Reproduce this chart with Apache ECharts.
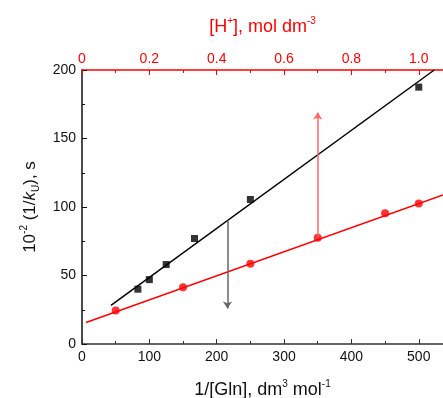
<!DOCTYPE html>
<html>
<head>
<meta charset="utf-8">
<script src="https://cdn.jsdelivr.net/npm/echarts@6/dist/echarts.min.js"></script>
<style>
  html, body { margin: 0; padding: 0; background: #fff; }
  #main { width: 443px; height: 398px; }
</style>
</head>
<body>
<div id="main"></div>
<script>
// black squares: 1/kU vs 1/[Gln]
const glnX = [83, 100, 125, 167, 250, 500];
const glnY = [40, 47, 58, 77, 105.5, 187.5];
// red circles: 1/kU vs [H+]
const hX = [0.1, 0.3, 0.5, 0.7, 0.9, 1.0];
const hY = [24.5, 41.5, 58.5, 77.5, 95.5, 102.5];
// fitted line end points
const glnFitX = [43, 523];
const glnFitY = [28.2, 200];
const hFitX = [0.012, 1.072];
const hFitY = [15.7, 108.8];
// arrows
const blackArrow = { x: 216, from: 90.3, to: 26 };
const redArrow = { x: 0.7, from: 77.5, to: 169 };

const FONT = 'Liberation Sans';
const RED = '#ff0000';

const chart = echarts.init(document.getElementById('main'));

const zip = (xs, ys) => xs.map((x, i) => [x, ys[i]]);

const option = {
  animation: false,
  textStyle: { fontFamily: FONT },
  grid: { left: 82, right: 0, top: 70, bottom: 54, containLabel: false, outerBoundsMode: 'none' },
  xAxis: [
    {
      type: 'value', position: 'bottom',
      min: 0, max: 536, interval: 100,
      name: '1/[Gln], dm{sup|3} mol{sup|-1}',
      nameLocation: 'middle', nameGap: 35,
      nameTextStyle: {
        fontSize: 18, color: '#111', lineHeight: 22,
        rich: { sup: { fontSize: 10, verticalAlign: 'top', lineHeight: 12, color: '#111' } }
      },
      axisLine: { show: true, lineStyle: { color: '#333', width: 1.5 } },
      axisTick: { inside: true, length: 5, lineStyle: { color: '#333' } },
      minorTick: { show: true, splitNumber: 2, length: 3, lineStyle: { color: '#333' } },
      axisLabel: { fontSize: 14, color: '#111', margin: 6, showMaxLabel: false,
        formatter: v => (v % 100 === 0 ? String(v) : '') },
      splitLine: { show: false }
    },
    {
      type: 'value', position: 'top',
      min: 0, max: 1.072, interval: 0.2,
      name: '[H{sup|+}], mol dm{sup|-3}',
      nameLocation: 'middle', nameGap: 32,
      nameTextStyle: {
        fontSize: 18, color: RED, lineHeight: 22,
        rich: { sup: { fontSize: 10, verticalAlign: 'top', lineHeight: 12, color: RED } }
      },
      axisLine: { show: true, lineStyle: { color: RED, width: 1.5 } },
      axisTick: { inside: true, length: 5, lineStyle: { color: RED } },
      minorTick: { show: true, splitNumber: 2, length: 3, lineStyle: { color: RED } },
      axisLabel: { fontSize: 14, color: RED, margin: 4, showMaxLabel: false,
        formatter: v => (v === 0 ? '0' : v.toFixed(1)) },
      splitLine: { show: false }
    }
  ],
  yAxis: {
    type: 'value', min: 0, max: 200, interval: 50,
    name: '10{sup|-2} (1/{it|k}{sub|U}), s',
    nameLocation: 'middle', nameGap: 40, nameRotate: 90,
    nameTextStyle: {
      fontSize: 17, color: '#111', lineHeight: 22,
      rich: {
        sup: { fontSize: 10, verticalAlign: 'top', lineHeight: 12, color: '#111' },
        sub: { fontSize: 10, verticalAlign: 'bottom', lineHeight: 12, color: '#111' },
        it: { fontSize: 17, fontStyle: 'italic', lineHeight: 22, color: '#111' }
      }
    },
    axisLine: { show: true, lineStyle: { color: '#111', width: 1.5 } },
    axisTick: { inside: true, length: 5, lineStyle: { color: '#111' } },
    minorTick: { show: true, splitNumber: 2, length: 3, lineStyle: { color: '#111' } },
    axisLabel: { fontSize: 14, color: '#111', margin: 6 },
    splitLine: { show: false }
  },
  series: [
    {
      type: 'line', xAxisIndex: 0, data: zip(glnFitX, glnFitY),
      showSymbol: false, silent: true,
      lineStyle: { color: '#000', width: 1.5 },
      markLine: {
        silent: true, symbol: ['none', 'arrow'], symbolSize: 7,
        label: { show: false },
        lineStyle: { color: '#666', width: 1.5, type: 'solid' },
        data: [[{ coord: [blackArrow.x, blackArrow.from] }, { coord: [blackArrow.x, blackArrow.to] }]]
      }
    },
    {
      type: 'line', xAxisIndex: 1, data: zip(hFitX, hFitY),
      showSymbol: false, silent: true,
      lineStyle: { color: RED, width: 1.5 },
      markLine: {
        silent: true, symbol: ['none', 'arrow'], symbolSize: 7,
        label: { show: false },
        lineStyle: { color: '#ff6666', width: 1.5, type: 'solid' },
        data: [[{ coord: [redArrow.x, redArrow.from] }, { coord: [redArrow.x, redArrow.to] }]]
      }
    },
    {
      type: 'scatter', xAxisIndex: 0, data: zip(glnX, glnY),
      symbol: 'rect', symbolSize: 7, itemStyle: { color: '#000' }
    },
    {
      type: 'scatter', xAxisIndex: 1, data: zip(hX, hY),
      symbol: 'circle', symbolSize: 8, itemStyle: { color: RED }
    }
  ]
};

chart.setOption(option);
</script>
</body>
</html>
